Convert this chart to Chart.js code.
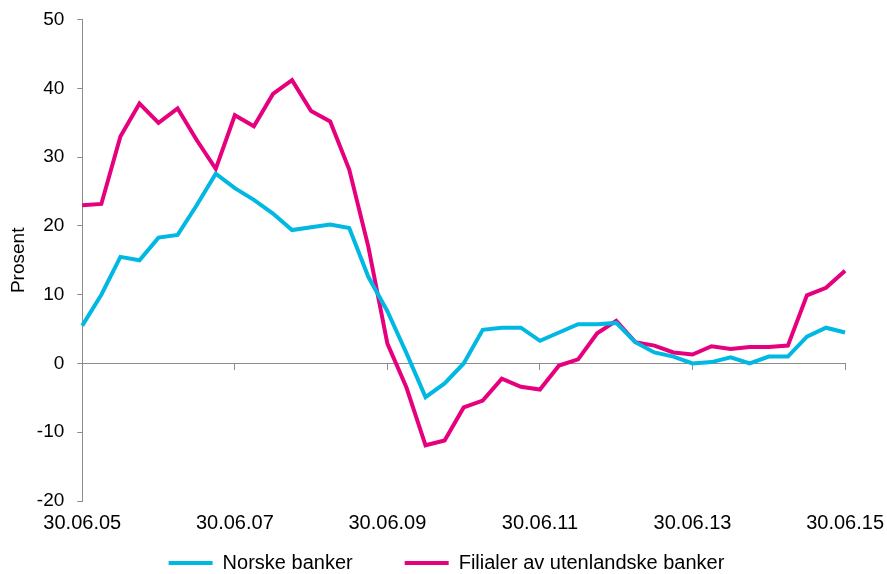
<!DOCTYPE html>
<html>
<head>
<meta charset="utf-8">
<script src="https://cdn.jsdelivr.net/npm/chart.js@4/dist/chart.umd.min.js"></script>
<style>
  html, body { margin: 0; padding: 0; background: #fff; }
  #wrap { width: 887px; height: 574px; }
</style>
</head>
<body>
<div id="wrap"><canvas id="c" width="887" height="574"></canvas></div>
<script>
const categories = [
  "30.06.05","30.09.05","31.12.05",
  "31.03.06","30.06.06","30.09.06","31.12.06",
  "31.03.07","30.06.07","30.09.07","31.12.07",
  "31.03.08","30.06.08","30.09.08","31.12.08",
  "31.03.09","30.06.09","30.09.09","31.12.09",
  "31.03.10","30.06.10","30.09.10","31.12.10",
  "31.03.11","30.06.11","30.09.11","31.12.11",
  "31.03.12","30.06.12","30.09.12","31.12.12",
  "31.03.13","30.06.13","30.09.13","31.12.13",
  "31.03.14","30.06.14","30.09.14","31.12.14",
  "31.03.15","30.06.15"
];
const norskeBanker = [
  5.5, 10.0, 15.5, 15.0, 18.3, 18.7, 23.0, 27.6, 25.5, 23.8,
  21.8, 19.4, 19.8, 20.2, 19.7, 12.6, 7.6, 1.5, -4.9, -2.9,
  0.0, 4.9, 5.2, 5.2, 3.3, 4.5, 5.7, 5.7, 5.9, 3.1,
  1.6, 1.0, 0.0, 0.2, 0.9, 0.0, 1.0, 1.0, 3.9, 5.2,
  4.5
];
const filialer = [
  23.0, 23.2, 33.0, 37.8, 35.0, 37.1, 32.5, 28.3, 36.1, 34.5,
  39.2, 41.2, 36.7, 35.2, 28.2, 17.0, 2.9, -3.5, -11.9, -11.2,
  -6.4, -5.4, -2.2, -3.4, -3.8, -0.3, 0.6, 4.4, 6.2, 3.1,
  2.6, 1.6, 1.3, 2.5, 2.1, 2.4, 2.4, 2.6, 9.9, 11.0,
  13.5
];
const seriesNames = ["Norske banker", "Filialer av utenlandske banker"];
const yTicks = { min: -20, max: 50, step: 10 };
const labelEvery = 8;

const CYAN = "#00B8E2";
const PINK = "#E6007E";
const AXIS = "#8C8C8C";
const FONT = "'Liberation Sans', Arial, sans-serif";
const LEGEND_GAP = 52;      // horizontal gap between legend items
const LEGEND_TOP_GAP = 15;  // space above legend items

// The legend's padding sets both the gap between items and the space above them;
// move the legend's top edge up so that only LEGEND_TOP_GAP is left above the items.
const legendShift = {
  id: "legendShift",
  afterLayout(chart) {
    const lg = chart.legend;
    if (!lg) return;
    const d = lg.options.labels.padding - LEGEND_TOP_GAP;
    lg.top -= d;
    lg.height += d;
  }
};

new Chart(document.getElementById("c"), {
  type: "line",
  data: {
    labels: categories,
    datasets: [
      { label: seriesNames[0], data: norskeBanker, borderColor: CYAN, backgroundColor: CYAN,
        borderWidth: 4, pointRadius: 0, tension: 0, xAxisID: "x", yAxisID: "y" },
      { label: seriesNames[1], data: filialer, borderColor: PINK, backgroundColor: PINK,
        borderWidth: 4, pointRadius: 0, tension: 0, xAxisID: "x", yAxisID: "y" }
    ]
  },
  plugins: [legendShift],
  options: {
    responsive: false,
    animation: false,
    layout: { padding: { left: 6, right: 0, top: 0, bottom: -2 } },
    plugins: {
      tooltip: { enabled: false },
      legend: {
        position: "bottom",
        maxHeight: 38,
        labels: {
          boxWidth: 44, boxHeight: 4, padding: LEGEND_GAP,
          color: "#000", font: { family: FONT, size: 20 },
          generateLabels: (chart) => Chart.defaults.plugins.legend.labels.generateLabels(chart)
            .map(l => Object.assign(l, { lineWidth: 0 }))
        }
      }
    },
    scales: {
      x: {
        type: "category",
        position: "bottom",
        offset: false,
        grid: { display: false, drawTicks: true, tickLength: 7 },
        border: { display: false },
        ticks: {
          autoSkip: false, maxRotation: 0, minRotation: 0, padding: 3,
          color: "#000", font: { family: FONT, size: 20 },
          callback: function (v, i) { return i % labelEvery === 0 ? this.getLabelForValue(v) : ""; }
        }
      },
      x2: {
        type: "category",
        axis: "x",
        position: { y: 0 },
        offset: false,
        grid: {
          display: true, drawOnChartArea: false, drawTicks: true, tickLength: 6,
          tickColor: (ctx) => (ctx.index % labelEvery === 0 ? AXIS : "rgba(0,0,0,0)"),
          color: "rgba(0,0,0,0)"
        },
        border: { display: true, color: AXIS, width: 1 },
        ticks: { display: false, autoSkip: false, padding: 0 }
      },
      y: {
        min: yTicks.min, max: yTicks.max,
        grid: {
          display: true, drawOnChartArea: false, drawTicks: true, tickLength: 5,
          tickColor: AXIS, color: AXIS
        },
        border: { display: true, color: AXIS, width: 1 },
        ticks: { stepSize: yTicks.step, padding: 13, color: "#000", font: { family: FONT, size: 19, lineHeight: 0.7 } },
        title: { display: true, text: "Prosent", color: "#000", font: { family: FONT, size: 19 }, padding: { top: 1, bottom: -6 } }
      }
    }
  }
});
</script>
</body>
</html>
